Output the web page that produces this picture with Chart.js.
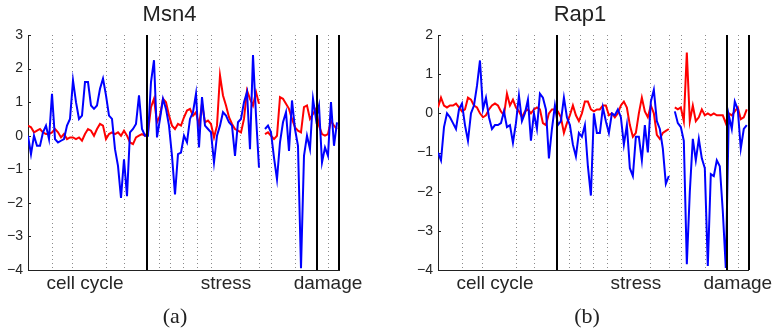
<!DOCTYPE html>
<html>
<head>
<meta charset="utf-8">
<script src="https://cdn.jsdelivr.net/npm/chart.js@4.4.1/dist/chart.umd.min.js"></script>
<style>
  body { margin: 0; width: 775px; height: 333px; background: #fff; position: relative; overflow: hidden; }
  canvas { position: absolute; top: 0; }
  .cap { position: absolute; top: 305px; font: 22px "Liberation Serif", serif; line-height: 1; color: #222; transform: translateX(-50%); }
</style>
</head>
<body>
<canvas id="msn4" width="388" height="333" style="left:0"></canvas>
<canvas id="rap1" width="387" height="333" style="left:388px"></canvas>
<div class="cap" style="left:175px">(a)</div>
<div class="cap" style="left:587px">(b)</div>

<script>
// experiment index runs 0..103, borders between experiments are in the same units
const xEnd = 103.67;
const experimentEdges = [8, 14.7, 26, 32, 43.7, 47.3, 51.7, 56.3, 61, 70.7, 77, 81, 89, 100];
const groupEdges = [39.7, 96.3, 103.67];
const groupNames = ['cell cycle', 'stress', 'damage'];
const groupLabelAt = [19, 66, 100];

// Msn4
const msn4Red = [0.3, 0.25, 0.1, 0.15, 0.2, 0.1, 0.05, 0.05, 0.1, 0.2,
  0.1, -0.05, 0.05, -0.1, -0.05, -0.05, -0.1, -0.05, -0.15, 0.05,
  0.2, 0.15, 0.0, 0.2, 0.35, 0.3, -0.1, 0.05, 0.1, 0.05,
  0.1, 0.0, 0.15, 0.0, -0.2, -0.25, -0.05, 0.0, 0.05, 0.0,
  0.1, 0.85, 1.1, 0.4, 0.6, 1.1, 1.0, 0.6, 0.3, 0.2,
  0.35, 0.3, 0.55, 0.75, 0.8, 0.6, 0.7, 0.3, 0.95, 0.4,
  0.45, 0.35, -0.05, 0.3, 1.8, 1.2, 0.9, 0.55, 0.35, 0.2,
  0.15, 0.1, 0.5, 1.35, 1.1, 0.9, 1.3, 0.95, null, 0.05,
  0.1, 0.0, -0.1, 0.0, 1.15, 1.1, 0.95, 0.8, 0.5, 0.25,
  0.15, 0.1, 0.85, 0.9, 0.5, 0.65, 0.8, 0.3, 0.05, 0.0,
  0.05, 0.45, 0.3, 0.2];
const msn4Blue = [0.0, -0.55, 0.0, -0.3, -0.3, 0.1, 0.3, -0.1, 1.25, -0.1,
  -0.2, -0.15, -0.1, 0.3, 0.5, 1.65, 1.0, 0.5, 0.6, 1.6,
  1.6, 0.9, 0.8, 0.9, 1.4, 1.7, 1.2, 0.6, 0.5, -0.4,
  -0.9, -1.85, -0.7, -1.8, 0.1, 0.2, 0.35, 1.2, 0.2, 0.0,
  0.0, 1.6, 2.25, -0.05, 0.5, 1.1, 0.8, 0.3, -0.6, -1.75,
  -0.55, -0.5, 0.0, -0.2, 0.5, 0.7, 1.25, -0.35, 1.15, 0.3,
  0.2, 0.1, -0.8, 0.0, 0.3, 0.7, 0.6, 0.4, 0.3, -0.6,
  0.4, 0.5, 1.0, 1.3, -0.4, 2.4, 0.6, -0.95, null, 0.2,
  0.3, 0.1, -0.65, -1.3, -0.2, 0.4, 0.7, -0.45, 1.05, 0.2,
  -0.3, -3.95, -0.6, 0.0, -0.4, 1.1, 0.5, 0.9, -0.8, -0.35,
  -0.6, 1.0, -0.3, 0.4];

// Rap1
const rap1Red = [0.15, 0.4, 0.2, 0.15, 0.2, 0.2, 0.25, 0.15, 0.05, 0.1,
  0.4, 0.35, 0.2, 0.15, 0.0, -0.1, -0.05, 0.1, 0.2, 0.25,
  0.2, 0.05, -0.05, 0.5, 0.2, 0.35, 0.15, 0.05, -0.1, 0.05,
  0.1, 0.0, 0.1, 0.15, 0.1, -0.25, -0.3, 0.0, 0.1, 0.1,
  0.05, -0.1, -0.5, -0.25, -0.05, 0.2, -0.05, -0.2, 0.0, 0.3,
  0.3, 0.1, 0.05, 0.1, 0.1, 0.2, 0.2, -0.05, 0.0, -0.1,
  0.0, 0.2, 0.3, 0.15, -0.3, -0.6, -0.5, 0.0, 0.4, 0.05,
  -0.1, 0.2, 0.0, -0.55, -0.65, -0.5, -0.45, -0.4, null, 0.15,
  0.1, 0.15, -0.2, 1.55, -0.2, 0.2, -0.2, -0.1, 0.1, -0.05,
  0.0, -0.05, 0.0, -0.05, -0.05, -0.05, -0.25, 0.0, -0.05, 0.05,
  0.15, -0.15, -0.1, 0.1];
const rap1Blue = [-1.0, -1.2, -0.35, 0.0, -0.1, -0.25, -0.4, 0.1, 0.25, -0.3,
  -0.7, 0.0, 0.2, 0.7, 1.35, 0.1, 0.4, -0.1, -0.4, -0.3,
  -0.3, -0.25, 0.05, -0.35, -0.3, -0.75, -0.25, 0.45, -0.2, 0.0,
  0.35, -0.7, 0.0, -0.4, 0.5, 0.4, 0.1, -1.15, -0.4, 0.2,
  -0.3, -0.2, 0.4, -0.1, -0.3, -0.8, -1.1, -0.5, -0.6, -0.3,
  -1.35, -2.1, 0.0, -0.5, -0.5, 0.15, -0.2, -0.5, 0.0, -0.05,
  0.1, -0.1, -0.8, -0.3, -1.4, -1.6, -0.6, -0.6, -1.2, -0.3,
  -1.0, 0.3, 0.6, -0.2, -0.4, -0.9, -1.8, -1.6, null, 0.05,
  -0.25, -0.35, -0.7, -3.85, -2.0, -0.65, -1.2, -0.65, -1.15, -1.4,
  -3.9, -1.55, -1.6, -1.2, -1.35, -2.5, -3.95, -0.05, -0.4, 0.3,
  0.1, -0.9, -0.4, -0.3];

const textColor = '#262626';
const sans = '"Liberation Sans", Arial, sans-serif';

function toPoints(values) {
  return values.map((v, i) => ({ x: i, y: v }));
}

// dotted experiment borders, solid group borders, inward y ticks
const guides = {
  id: 'guides',
  beforeDatasetsDraw(chart) {
    const { ctx, chartArea: a, scales } = chart;
    ctx.save();
    ctx.strokeStyle = '#8a8a8a';
    ctx.lineWidth = 1;
    ctx.setLineDash([1, 3]);
    experimentEdges.forEach(v => {
      const px = Math.round(scales.x.getPixelForValue(v)) + 0.5;
      ctx.beginPath();
      ctx.moveTo(px, a.top);
      ctx.lineTo(px, a.bottom);
      ctx.stroke();
    });
    ctx.setLineDash([]);
    ctx.strokeStyle = '#222';
    scales.y.ticks.forEach(t => {
      const py = Math.round(scales.y.getPixelForValue(t.value)) + 0.5;
      ctx.beginPath();
      ctx.moveTo(a.left, py);
      ctx.lineTo(a.left + 3, py);
      ctx.stroke();
    });
    ctx.restore();
  },
  afterDatasetsDraw(chart) {
    const { ctx, chartArea: a, scales } = chart;
    ctx.save();
    ctx.strokeStyle = '#000';
    ctx.lineWidth = 2;
    groupEdges.forEach(v => {
      const px = Math.round(scales.x.getPixelForValue(v));
      ctx.beginPath();
      ctx.moveTo(px, a.top);
      ctx.lineTo(px, a.bottom);
      ctx.stroke();
    });
    ctx.restore();
  }
};

function makeChart(id, title, red, blue, yMin, yMax, padLeft, padRight) {
  return new Chart(document.getElementById(id), {
    type: 'line',
    data: {
      datasets: [
        { data: toPoints(blue), borderColor: '#0000ff', borderWidth: 2, pointRadius: 0, spanGaps: false },
        { data: toPoints(red), borderColor: '#ff0000', borderWidth: 2, pointRadius: 0, spanGaps: false }
      ]
    },
    options: {
      responsive: false,
      animation: false,
      devicePixelRatio: 1,
      layout: { padding: { left: padLeft, right: padRight, top: 0, bottom: 39 } },
      plugins: {
        legend: { display: false },
        tooltip: { enabled: false },
        title: {
          display: true,
          text: title,
          color: '#222',
          font: { family: sans, size: 22, weight: 'normal' },
          padding: { top: 2, bottom: 6.6 }
        }
      },
      scales: {
        x: {
          type: 'linear',
          min: 0,
          max: xEnd,
          grid: { display: false, drawTicks: false },
          border: { display: true, color: '#222', width: 1 },
          afterBuildTicks: s => { s.ticks = groupLabelAt.map(v => ({ value: v })); },
          afterFit: s => { s.height = 24; },
          ticks: {
            autoSkip: false,
            maxRotation: 0,
            padding: 2,
            color: textColor,
            font: { family: sans, size: 19 },
            callback: (v, i) => groupNames[i]
          }
        },
        y: {
          min: yMin,
          max: yMax,
          afterFit: s => { s.width = 28; },
          grid: { display: false, drawTicks: false },
          border: { display: true, color: '#222', width: 1 },
          ticks: {
            stepSize: 1,
            padding: 5,
            color: textColor,
            font: { family: sans, size: 14 },
            callback: v => String(v).replace('-', '\u2212')
          }
        }
      }
    },
    plugins: [guides]
  });
}

makeChart('msn4', 'Msn4', msn4Red, msn4Blue, -4, 3, 0, 49);
makeChart('rap1', 'Rap1', rap1Red, rap1Blue, -4, 2, 22, 25);
</script>
</body>
</html>
